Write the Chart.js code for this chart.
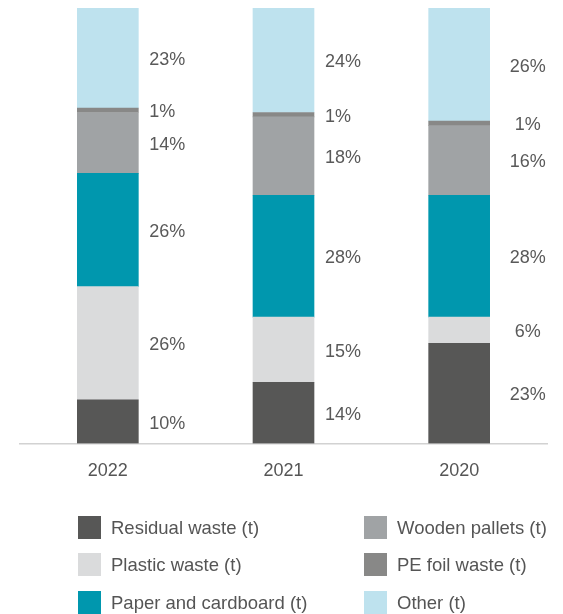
<!DOCTYPE html>
<html>
<head>
<meta charset="utf-8">
<script src="https://cdn.jsdelivr.net/npm/chart.js@4/dist/chart.umd.min.js"></script>
<style>
  body { margin: 0; background: #fff; }
  #wrap { position: relative; width: 563px; height: 614px; overflow: hidden; }
  #legend { position: absolute; left: 0; top: 0; width: 563px; height: 614px; font-family: "Liberation Sans", Arial, sans-serif; font-size: 18.5px; color: #555; }
  .item { position: absolute; height: 23px; line-height: 23px; white-space: nowrap; }
  .box { position: absolute; left: 0; top: 0; width: 23px; height: 23px; }
  .txt { position: absolute; left: 33px; top: 0; }
</style>
</head>
<body>
<div id="wrap">
  <canvas id="waste" width="563" height="614"></canvas>
  <div id="legend"></div>
</div>
<script>
const years = ["2022", "2021", "2020"];
const residual = [10, 14, 23];
const plastic = [26, 15, 6];
const paper = [26, 28, 28];
const wooden = [14, 18, 16];
const peFoil = [1, 1, 1];
const other = [23, 24, 26];

const seriesNames = ["Residual waste (t)", "Plastic waste (t)", "Paper and cardboard (t)", "Wooden pallets (t)", "PE foil waste (t)", "Other (t)"];
const seriesColors = ["#575756", "#dadbdc", "#0097ae", "#a0a3a5", "#888887", "#bee2ee"];
const seriesValues = [residual, plastic, paper, wooden, peFoil, other];

const fontFamily = '"Liberation Sans", Arial, sans-serif';

const segmentLabels = {
	id: "segmentLabels",
	afterDatasetsDraw(chart) {
		const ctx = chart.ctx;
		ctx.save();
		ctx.font = "18px " + fontFamily;
		ctx.fillStyle = "#595959";
		ctx.textBaseline = "middle";
		chart.data.datasets.forEach((ds, i) => {
			const meta = chart.getDatasetMeta(i);
			meta.data.forEach((bar, j) => {
				const right = bar.x + bar.width / 2;
				const y = (bar.y + bar.base) / 2 + 2;
				const txt = ds.data[j] + "%";
				if (j === 2) {
					ctx.textAlign = "center";
					ctx.fillText(txt, right + 38, y);
				} else {
					ctx.textAlign = "left";
					ctx.fillText(txt, right + 11, y);
				}
			});
		});
		ctx.restore();
	}
};

new Chart("waste", {
	type: "bar",
	data: {
		labels: years,
		datasets: seriesNames.map((name, i) => ({
			label: name,
			data: seriesValues[i],
			backgroundColor: seriesColors[i],
			barThickness: 61,
			borderWidth: 0
		}))
	},
	options: {
		responsive: false,
		animation: false,
		layout: { padding: { top: 8, left: 20, right: 16, bottom: 123 } },
		plugins: {
			legend: { display: false },
			tooltip: { enabled: false }
		},
		scales: {
			x: {
				stacked: true,
				grid: { display: false },
				border: { display: true, color: "#d2d2d2", width: 1.5 },
				ticks: { color: "#555", font: { family: fontFamily, size: 18 }, padding: 9 }
			},
			y: {
				stacked: true,
				display: false,
				min: 0,
				max: 100
			}
		}
	},
	plugins: [segmentLabels]
});

// legend in two columns, column by column
const legend = document.getElementById("legend");
const colX = [78, 364];
const rowY = [516, 553, 591];
seriesNames.forEach((name, i) => {
	const item = document.createElement("div");
	item.className = "item";
	item.style.left = colX[Math.floor(i / 3)] + "px";
	item.style.top = rowY[i % 3] + "px";
	item.innerHTML = '<span class="box" style="background:' + seriesColors[i] + '"></span><span class="txt">' + name + "</span>";
	legend.appendChild(item);
});
</script>
</body>
</html>
